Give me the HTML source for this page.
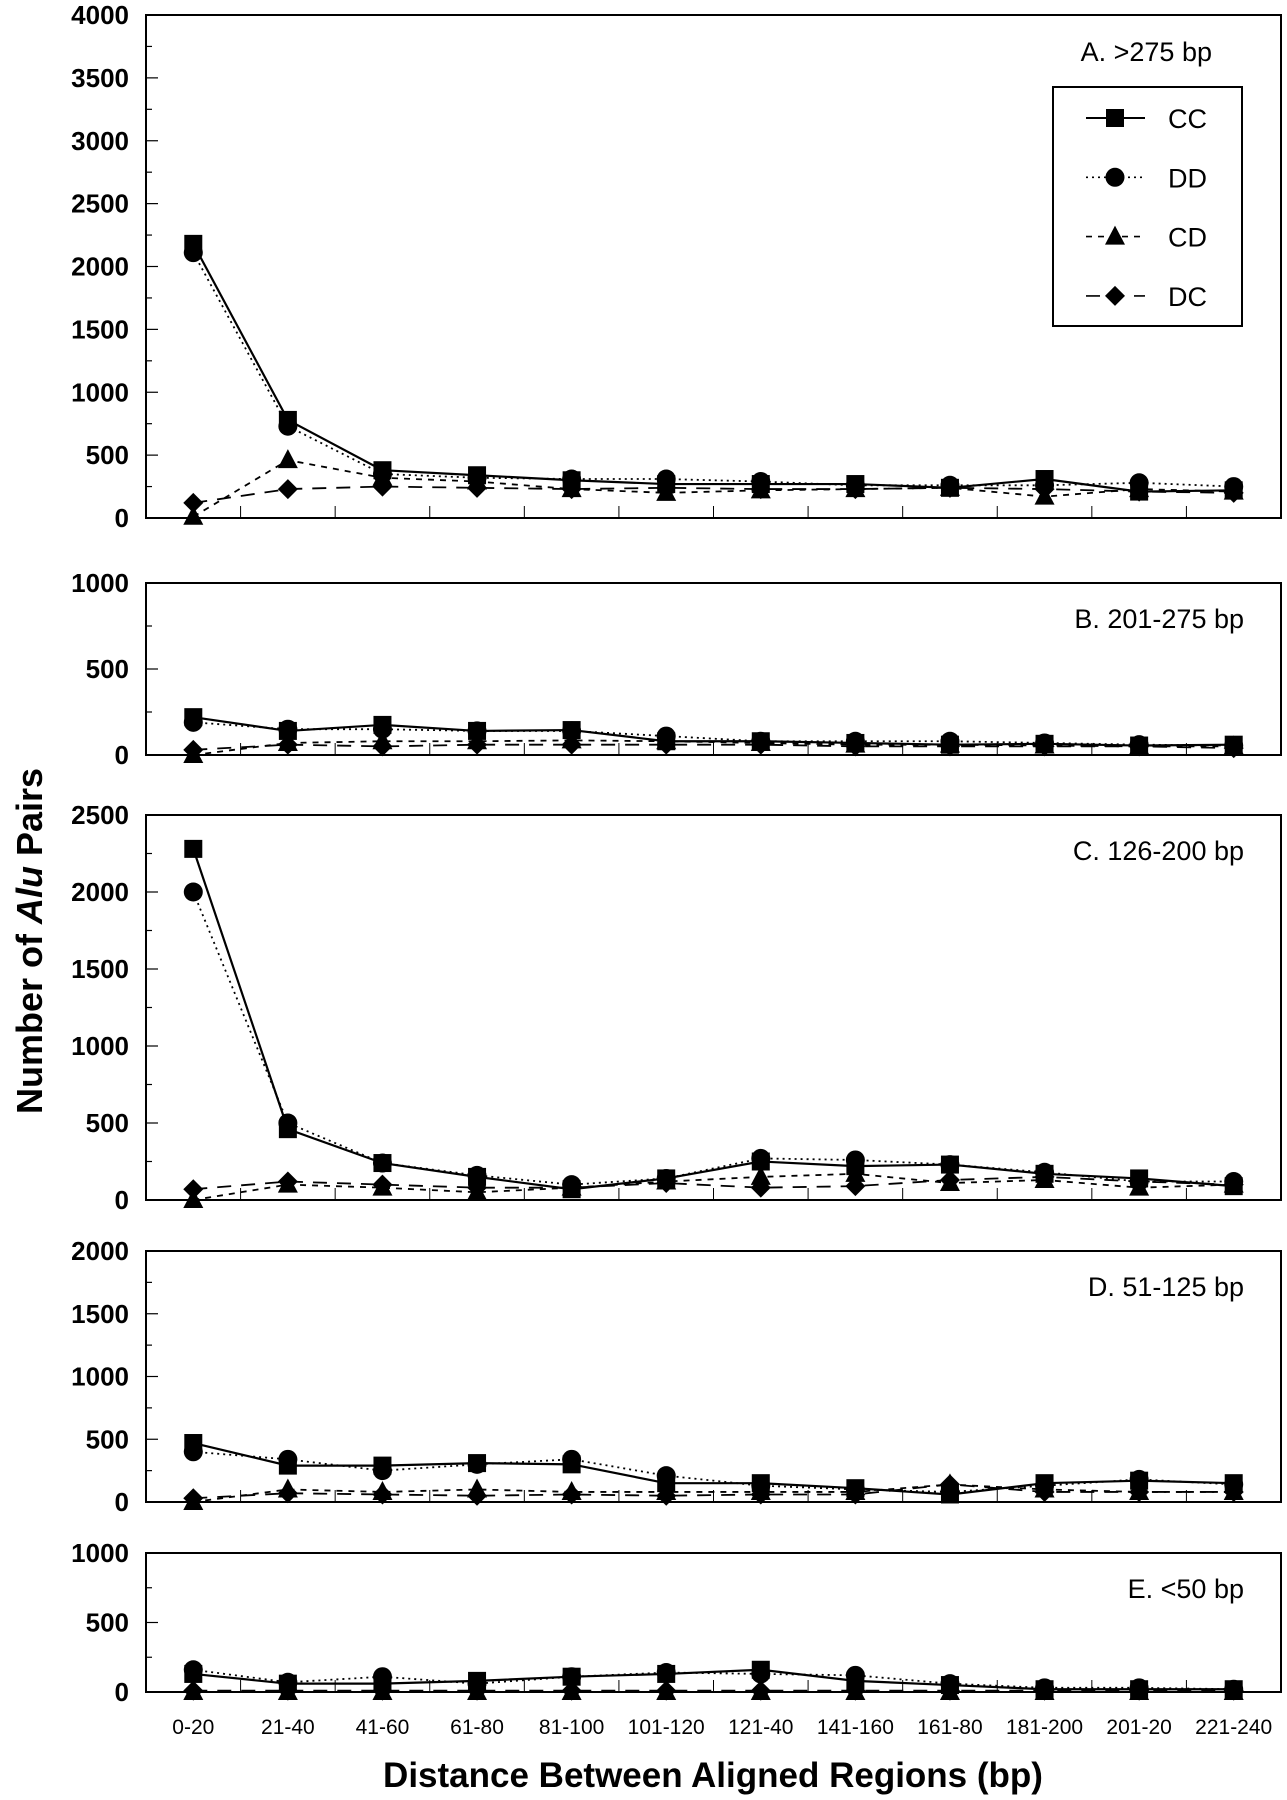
<!DOCTYPE html>
<html><head><meta charset="utf-8"><style>
body{margin:0;background:#fff;}
svg{display:block;font-family:"Liberation Sans",Arial,sans-serif;}
</style></head><body>
<svg id="chart" width="1287" height="1800" viewBox="0 0 1287 1800" xmlns="http://www.w3.org/2000/svg"></svg>
<script>
const categories=["0-20","21-40","41-60","61-80","81-100","101-120","121-40","141-160","161-80","181-200","201-20","221-240"];
const panelLabels=["A.  >275 bp","B.  201-275 bp","C.  126-200 bp","D.  51-125 bp","E.  <50 bp"];
const panelMax=[4000,1000,2500,2000,1000];
const ccA=[2180,780,380,340,300,270,270,270,240,310,210,220];
const ddA=[2110,730,350,320,310,310,290,260,260,260,280,250];
const cdA=[10,460,320,290,230,200,220,230,240,170,230,210];
const dcA=[120,230,250,240,230,240,230,230,240,230,210,200];
const ccB=[220,140,175,140,145,80,80,70,60,65,55,60];
const ddB=[190,150,150,140,140,110,80,80,80,70,60,55];
const cdB=[0,70,80,80,85,80,70,60,60,55,50,50];
const dcB=[30,60,50,60,60,60,60,50,50,50,50,40];
const ccC=[2280,460,240,150,70,140,250,220,230,170,140,90];
const ddC=[2000,500,240,160,100,140,270,260,230,180,120,120];
const cdC=[0,100,80,50,80,120,150,170,110,130,80,100];
const dcC=[70,120,100,80,80,110,80,90,130,150,120,100];
const ccD=[470,290,290,310,300,150,150,110,60,150,170,150];
const ddD=[400,340,250,300,340,210,130,100,80,130,180,140];
const cdD=[0,100,80,100,80,80,80,80,140,100,80,80];
const dcD=[30,70,60,50,60,50,60,60,140,80,80,80];
const ccE=[130,60,60,80,110,130,160,80,50,20,20,20];
const ddE=[160,70,110,60,110,140,130,120,60,30,30,20];
const cdE=[0,0,0,0,0,0,0,0,0,0,0,0];
const dcE=[10,10,10,10,10,10,10,10,10,10,10,10];

const svg=document.getElementById('chart');
const NS="http://www.w3.org/2000/svg";
function mk(tag,attrs,parent){const e=document.createElementNS(NS,tag);for(const k in attrs)e.setAttribute(k,attrs[k]);(parent||svg).appendChild(e);return e;}
const L=146,R=1281;
const boxes=[[15,518],[583,755],[815,1200],[1251,1502],[1553,1692]];
const data=[[ccA,ddA,cdA,dcA],[ccB,ddB,cdB,dcB],[ccC,ddC,cdC,dcC],[ccD,ddD,cdD,dcD],[ccE,ddE,cdE,dcE]];
const seriesNames=["cc","dd","cd","dc"];
const dashes=["none","2 4","6 6","14 10"];
const bw=(R-L)/categories.length;
function xPos(i){return L+bw*(i+0.5);}
function marker(type,x,y,g){
  let e;
  if(type==="cc")e=mk('rect',{x:x-9,y:y-9,width:18,height:18,fill:'#000'},g);
  else if(type==="dd")e=mk('circle',{cx:x,cy:y,r:9.5,fill:'#000'},g);
  else if(type==="cd")e=mk('polygon',{points:`${x},${y-11} ${x+10},${y+8} ${x-10},${y+8}`,fill:'#000'},g);
  else e=mk('polygon',{points:`${x},${y-10} ${x+10},${y} ${x},${y+10} ${x-10},${y}`,fill:'#000'},g);
  
  
  return e;
}
boxes.forEach((b,p)=>{
  const [top,bot]=b;const max=panelMax[p];
  const y=v=>bot-(v/max)*(bot-top);
  const g=mk('g',{});
  
  
  for(let v=0;v<=max;v+=250){
    const major=v%500===0;
    mk('line',{x1:L,x2:L+(major?12:6),y1:y(v),y2:y(v),stroke:'#000','stroke-width':1.2},g);
    if(major){const t=mk('text',{x:129,y:y(v)+9,'text-anchor':'end','font-size':26,'font-weight':'bold'},g);t.textContent=v;
      }
  }
  for(let i=1;i<categories.length;i++)mk('line',{x1:L+bw*i,x2:L+bw*i,y1:bot,y2:bot-12,stroke:'#000','stroke-width':1},g);
  const fr=mk('rect',{x:L,y:top,width:R-L,height:bot-top,fill:'none',stroke:'#000','stroke-width':2},g);
  
  const lb=mk('text',{x:p===0?1212:1244,y:top+(p===0?46:45),'text-anchor':'end','font-size':27},g);
  lb.textContent=panelLabels[p];
  data[p].forEach((arr,s)=>{
    const pts=arr.map((v,i)=>xPos(i)+','+y(v)).join(' ');
    const pl=mk('polyline',{points:pts,fill:'none',stroke:'#000','stroke-width':s===0?2.2:1.8,'stroke-dasharray':dashes[s]},g);
    
    arr.forEach((v,i)=>marker(seriesNames[s],xPos(i),y(v),g));
  });
});
categories.forEach((c,i)=>{
  const t=mk('text',{x:xPos(i),y:1734,'text-anchor':'middle','font-size':21});
  t.textContent=c;
});
const lg=mk('g',{});

mk('rect',{x:1053,y:87,width:189,height:239,fill:'#fff',stroke:'#000','stroke-width':2},lg);
["CC","DD","CD","DC"].forEach((n,s)=>{
  const yy=118+s*59.3;
  const e=mk('g',{},lg);
  
  mk('line',{x1:1086,x2:1145,y1:yy,y2:yy,stroke:'#000','stroke-width':s===0?2:1.6,'stroke-dasharray':dashes[s]},e);
  marker(seriesNames[s],1115,yy,e);
  const t=mk('text',{x:1168,y:yy+10,'font-size':27},e);t.textContent=n;
});
const xt=mk('text',{x:713,y:1787,'text-anchor':'middle','font-size':35,'font-weight':'bold'});
xt.textContent="Distance Between Aligned Regions (bp)";

const yt=mk('text',{x:0,y:0,'text-anchor':'middle','font-size':36,'font-weight':'bold',transform:'translate(42,941) rotate(-90)'});
yt.innerHTML='Number of <tspan font-style="italic">Alu</tspan> Pairs';

</script>
</body></html>
